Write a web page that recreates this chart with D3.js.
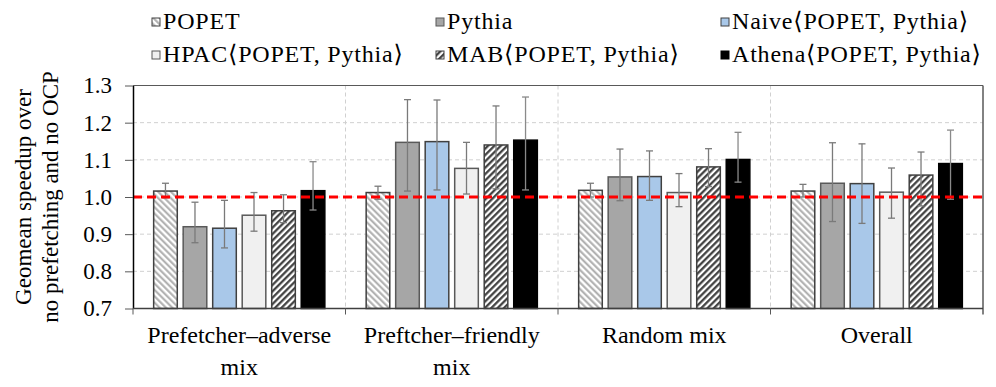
<!DOCTYPE html>
<html>
<head>
<meta charset="utf-8">
<script src="https://cdn.jsdelivr.net/npm/d3@7"></script>
<style>
    body { margin: 0; background: #fff; }
    svg { display: block; }
    svg text { font-family: "Liberation Serif", "DejaVu Serif", serif; }
</style>
</head>
<body>
<div id="chart"></div>
<script>
// Categories and series
const categories = [["Prefetcher–adverse", "mix"], ["Preftcher–friendly", "mix"], ["Random mix"], ["Overall"]];
const seriesNames = ["POPET", "Pythia", "Naive⟨POPET, Pythia⟩", "HPAC⟨POPET, Pythia⟩", "MAB⟨POPET, Pythia⟩", "Athena⟨POPET, Pythia⟩"];
const yTicks = [0.7, 0.8, 0.9, 1.0, 1.1, 1.2, 1.3];

// Geomean speedup per category (bar height)
const popet  = [1.016, 1.012, 1.018, 1.016];
const pythia = [0.920, 1.147, 1.054, 1.037];
const naive  = [0.916, 1.149, 1.055, 1.036];
const hpac   = [0.951, 1.077, 1.012, 1.013];
const mab    = [0.963, 1.140, 1.081, 1.059];
const athena = [1.017, 1.153, 1.101, 1.090];

// Error bar ranges [low, high]
const popetErr  = [[0.998, 1.037], [0.994, 1.029], [1.000, 1.037], [1.000, 1.034]];
const pythiaErr = [[0.877, 0.986], [1.016, 1.262], [0.990, 1.129], [0.934, 1.146]];
const naiveErr  = [[0.863, 0.991], [1.019, 1.261], [0.991, 1.124], [0.929, 1.143]];
const hpacErr   = [[0.908, 1.012], [1.008, 1.147], [0.974, 1.063], [0.943, 1.078]];
const mabErr    = [[0.931, 1.006], [1.022, 1.245], [1.028, 1.130], [0.976, 1.121]];
const athenaErr = [[0.965, 1.095], [1.019, 1.269], [1.040, 1.174], [0.994, 1.180]];

const values = [popet, pythia, naive, hpac, mab, athena];
const errors = [popetErr, pythiaErr, naiveErr, hpacErr, mabErr, athenaErr];

const fills = ["url(#hatchLight)", "#a6a6a6", "#a9c8e9", "#f0f0f0", "url(#hatchDark)", "#000"];
const strokes = ["#404040", "#595959", "#404040", "#595959", "#404040", "#000"];

const width = 996, height = 387;
const margin = { top: 85.5, right: 13, bottom: 78.5, left: 133 };
const innerW = width - margin.left - margin.right;
const innerH = height - margin.top - margin.bottom;

const svg = d3.select('#chart')
    .append('svg')
    .attr('width', width)
    .attr('height', height);

// Hatch patterns
const defs = svg.append('defs');
defs.append('pattern')
    .attr('id', 'hatchLight')
    .attr('patternUnits', 'userSpaceOnUse')
    .attr('width', 4.5).attr('height', 4.5)
    .attr('patternTransform', 'rotate(-45)')
    .call(p => {
        p.append('rect').attr('width', 4.5).attr('height', 4.5).attr('fill', '#fff');
        p.append('line').attr('x1', 1.2).attr('y1', 0).attr('x2', 1.2).attr('y2', 4.5)
            .attr('stroke', '#ababab').attr('stroke-width', 2);
    });
defs.append('pattern')
    .attr('id', 'hatchDark')
    .attr('patternUnits', 'userSpaceOnUse')
    .attr('width', 4.5).attr('height', 4.5)
    .attr('patternTransform', 'rotate(45)')
    .call(p => {
        p.append('rect').attr('width', 4.5).attr('height', 4.5).attr('fill', '#fff');
        p.append('line').attr('x1', 1.2).attr('y1', 0).attr('x2', 1.2).attr('y2', 4.5)
            .attr('stroke', '#3a3a3a').attr('stroke-width', 2.2);
    });

const g = svg.append('g').attr('transform', `translate(${margin.left},${margin.top})`);

// Scales
const x0 = d3.scaleBand().domain(d3.range(categories.length)).range([0, innerW]).padding(0);
const x1 = d3.scaleBand().domain(d3.range(seriesNames.length)).range([0, x0.bandwidth()])
    .paddingInner(0.2).paddingOuter(0.7);
const y = d3.scaleLinear().domain([0.7, 1.3]).range([innerH, 0]);

// Horizontal grid
g.append('g')
    .selectAll('line')
    .data(yTicks.slice(1, -1))
    .enter().append('line')
    .attr('x1', 0).attr('x2', innerW)
    .attr('y1', d => y(d)).attr('y2', d => y(d))
    .attr('stroke', '#d0d0d0')
    .attr('stroke-dasharray', '4,3');

// Vertical grid at category boundaries
g.append('g')
    .selectAll('line')
    .data(d3.range(1, categories.length))
    .enter().append('line')
    .attr('x1', d => x0(d)).attr('x2', d => x0(d))
    .attr('y1', 0).attr('y2', innerH)
    .attr('stroke', '#d0d0d0')
    .attr('stroke-dasharray', '4,3');

// Top and right border
g.append('line').attr('x1', 0).attr('x2', innerW).attr('y1', 0).attr('y2', 0)
    .attr('stroke', '#595959').attr('stroke-width', 1);
g.append('line').attr('x1', innerW).attr('x2', innerW).attr('y1', 0).attr('y2', innerH + 6)
    .attr('stroke', '#595959').attr('stroke-width', 1.5);

// Bars
const groups = g.append('g')
    .selectAll('g')
    .data(seriesNames.map((name, i) => ({ name, i })))
    .enter().append('g');

groups.selectAll('rect')
    .data(s => values[s.i].map((v, c) => ({ s: s.i, c, v })))
    .enter().append('rect')
    .attr('x', d => x0(d.c) + x1(d.s))
    .attr('y', d => y(d.v))
    .attr('width', x1.bandwidth())
    .attr('height', d => innerH - y(d.v))
    .attr('fill', d => fills[d.s])
    .attr('stroke', d => strokes[d.s])
    .attr('stroke-width', 1.5);

// Error bars
const capW = 3.5;
const err = groups.selectAll('g.err')
    .data(s => errors[s.i].map((e, c) => ({ s: s.i, c, lo: e[0], hi: e[1] })))
    .enter().append('g')
    .attr('class', 'err')
    .attr('stroke', d => d.s === 5 ? '#8a8a8a' : '#7a7a7a')
    .attr('stroke-width', 1.3);
err.append('line')
    .attr('x1', d => x0(d.c) + x1(d.s) + x1.bandwidth() / 2)
    .attr('x2', d => x0(d.c) + x1(d.s) + x1.bandwidth() / 2)
    .attr('y1', d => y(d.lo)).attr('y2', d => y(d.hi));
err.append('line')
    .attr('x1', d => x0(d.c) + x1(d.s) + x1.bandwidth() / 2 - capW)
    .attr('x2', d => x0(d.c) + x1(d.s) + x1.bandwidth() / 2 + capW)
    .attr('y1', d => y(d.hi)).attr('y2', d => y(d.hi));
err.append('line')
    .attr('x1', d => x0(d.c) + x1(d.s) + x1.bandwidth() / 2 - capW)
    .attr('x2', d => x0(d.c) + x1(d.s) + x1.bandwidth() / 2 + capW)
    .attr('y1', d => y(d.lo)).attr('y2', d => y(d.lo));

// Red baseline at 1.0
g.append('line')
    .attr('x1', 0).attr('x2', innerW)
    .attr('y1', y(1.0)).attr('y2', y(1.0))
    .attr('stroke', '#ff0000')
    .attr('stroke-width', 3)
    .attr('stroke-dasharray', '9,5');

// Y axis
const yAxis = g.append('g')
    .call(d3.axisLeft(y).tickValues(yTicks).tickFormat(d3.format('.1f')).tickSizeInner(8).tickSizeOuter(0).tickPadding(13));
yAxis.select('.domain').attr('stroke', '#000').attr('stroke-width', 1.5);
yAxis.selectAll('.tick line').attr('stroke', '#595959');
yAxis.selectAll('text').attr('font-size', 23).attr('fill', '#000');

// X axis line with boundary ticks
g.append('line').attr('x1', 0).attr('x2', innerW).attr('y1', innerH).attr('y2', innerH)
    .attr('stroke', '#404040').attr('stroke-width', 1.5);
g.append('g')
    .selectAll('line')
    .data(d3.range(0, categories.length))
    .enter().append('line')
    .attr('x1', d => x0(d)).attr('x2', d => x0(d))
    .attr('y1', innerH).attr('y2', innerH + 6)
    .attr('stroke', '#595959');

// Category labels
const catLabels = g.append('g')
    .selectAll('text')
    .data(categories)
    .enter().append('text')
    .attr('text-anchor', 'middle')
    .attr('font-size', 24)
    .attr('fill', '#000')
    .attr('transform', (d, i) => `translate(${x0(i) + x0.bandwidth() / 2},${innerH + 34})`);
catLabels.selectAll('tspan')
    .data(d => d)
    .enter().append('tspan')
    .attr('x', 0)
    .attr('dy', (d, i) => i === 0 ? 0 : 32)
    .text(d => d);

// Y axis title
const yTitle = svg.append('text')
    .attr('text-anchor', 'middle')
    .attr('font-size', 23)
    .attr('fill', '#000')
    .attr('transform', `translate(0,${margin.top + innerH / 2}) rotate(-90)`);
yTitle.append('tspan').attr('x', 0).attr('y', 31).text('Geomean speedup over');
yTitle.append('tspan').attr('x', 0).attr('y', 58).text('no prefetching and no OCP');

// Legend
const legendX = [152, 436, 721];
const legendY = [29, 62];
svg.append('g')
    .selectAll('text')
    .data(seriesNames)
    .enter().append('text')
    .attr('x', (d, i) => legendX[i % 3] + 11)
    .attr('y', (d, i) => legendY[Math.floor(i / 3)])
    .attr('font-size', 24)
    .attr('letter-spacing', 0.8)
    .attr('fill', '#000')
    .text(d => d);
svg.append('g')
    .selectAll('rect')
    .data(seriesNames)
    .enter().append('rect')
    .attr('x', (d, i) => legendX[i % 3])
    .attr('y', (d, i) => legendY[Math.floor(i / 3)] - 11)
    .attr('width', 8).attr('height', 8)
    .attr('fill', (d, i) => fills[i])
    .attr('stroke', (d, i) => strokes[i])
    .attr('stroke-width', 1);
</script>
</body>
</html>
